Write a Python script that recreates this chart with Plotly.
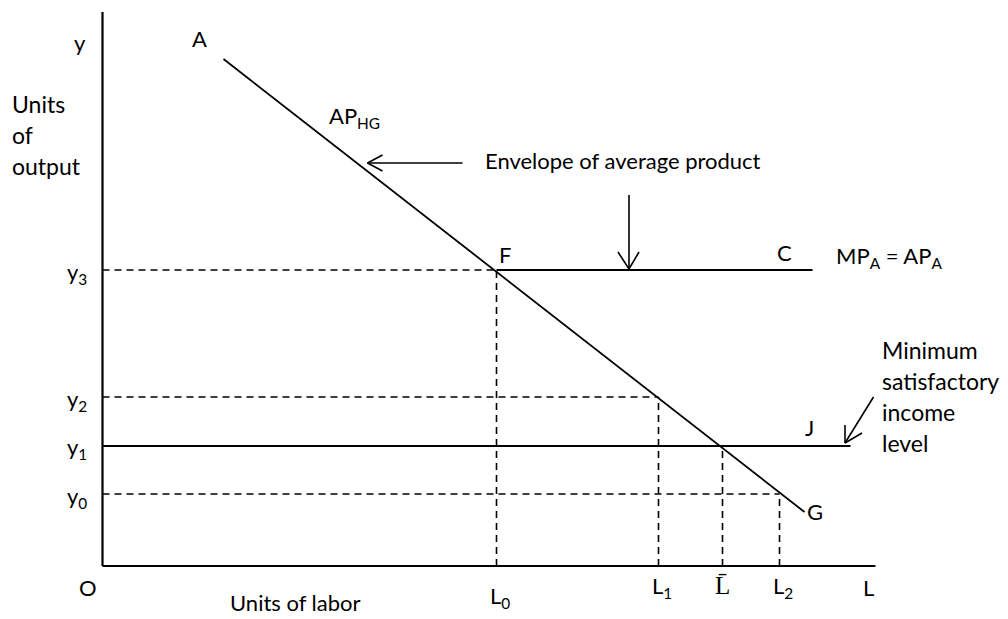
import plotly.graph_objects as go

# ---- diagram values (origin O at 0,0; units arbitrary) ----
y_names = ["y<sub>0</sub>", "y<sub>1</sub>", "y<sub>2</sub>", "y<sub>3</sub>"]
y_values = [72, 120, 169, 296]
L_names = ["L<sub>0</sub>", "L<sub>1</sub>", "L\u0304", "L<sub>2</sub>"]
L_values = [394, 556, 620, 677]

# envelope of average product (A -> G)
ap_x = [121, 702]
ap_y = [507, 54]
# MP_A = AP_A line (F -> C) and minimum satisfactory income line (to J)
fc_end_x = 710
income_end_x = 748
# axis extents
x_axis_max = 773
y_axis_max = 554

FONT = "Lato"
FS = 22
BLACK = "#000000"

fig = go.Figure()


def seg(xs, ys, width=1.6, dash="solid"):
    fig.add_trace(go.Scatter(x=xs, y=ys, mode="lines",
                             line=dict(color=BLACK, width=width, dash=dash),
                             hoverinfo="skip", showlegend=False))


DASH = "7px,5px"

# axes
seg([0, 0], [0, y_axis_max], width=2.2)
seg([0, x_axis_max], [0, 0], width=2.2)

y0, y1, y2, y3 = y_values
L0, L1, Lb, L2 = L_values

# dashed guides
seg([0, L0], [y3, y3], dash=DASH)
seg([L0, L0], [0, y3], dash=DASH)
seg([0, L1], [y2, y2], dash=DASH)
seg([L1, L1], [0, y2], dash=DASH)
seg([Lb, Lb], [0, y1], dash=DASH)
seg([0, L2], [y0, y0], dash=DASH)
seg([L2, L2], [0, y0], dash=DASH)

# solid curves
seg(ap_x, ap_y, width=1.8)
seg([L0, fc_end_x], [y3, y3], width=1.8)
seg([0, income_end_x], [y1, y1], width=1.8)

# arrows (open V heads)
# envelope arrow (horizontal, pointing left to AP curve)
seg([360, 265], [403, 403], width=1.6)
seg([280, 265, 280], [411, 403, 395], width=1.6)
# vertical arrow pointing down to F-C line
seg([526.5, 526.5], [371, 297], width=1.6)
seg([515.5, 526.5, 536.5], [314, 297, 314], width=1.6)
# arrow from "income" label to J line
seg([771, 742.5], [169, 123], width=1.6)
seg([742.5, 742.5], [141, 123], width=1.6)
seg([742.5, 759.5], [123, 133], width=1.6)


def label(x, y, text, size=FS, xanchor="center", family=FONT, yanchor="middle"):
    fig.add_annotation(x=x, y=y, text=text, showarrow=False, xanchor=xanchor,
                       yanchor=yanchor, font=dict(family=family, size=size, color=BLACK))


# axis labels
label(-23, 524, "y")
for i, t in enumerate(["Units", "of", "output"]):
    label(-93, 462 - 31 * i, t, xanchor="left", size=23)
label(-15, -21, "O")
label(193, -52, "Units of labor", yanchor="bottom")
label(766, -21, "L")

# tick-like labels
y_label_y = [69, 118, 166, 293]
for name, yy in zip(y_names, y_label_y):
    label(-26, yy, name)
L_label_y = [-31, -21, -19, -21]
for name, xx, yy in zip(L_names, L_values, L_label_y):
    if "\u0304" in name:
        label(xx, yy, name, size=25, family="Liberation Serif")
    else:
        label(xx + 3, yy, name)

# point labels
label(97, 528, "A")
label(402, 312, "F")
label(682, 314, "C")
label(707, 139, "J")
label(712, 55, "G")
label(224, 449, "AP<sub>HG</sub>", xanchor="left")
label(380, 406, "Envelope of average product", xanchor="left")
label(731, 309, "MP<sub>A</sub> = AP<sub>A</sub>", xanchor="left")
for i, t in enumerate(["Minimum", "satisfactory", "income", "level"]):
    label(777, 216 - 31 * i, t, xanchor="left", size=23)

# the page body has an 8px margin: size the figure to the remaining viewport
fig.update_layout(
    width=1000, height=611,
    margin=dict(l=0, r=0, t=0, b=0),
    paper_bgcolor="white", plot_bgcolor="white",
    xaxis=dict(range=[-94.5, 905.5], visible=False, fixedrange=True),
    yaxis=dict(range=[-53, 558], visible=False, fixedrange=True),
)

fig.write_html("out.html")
